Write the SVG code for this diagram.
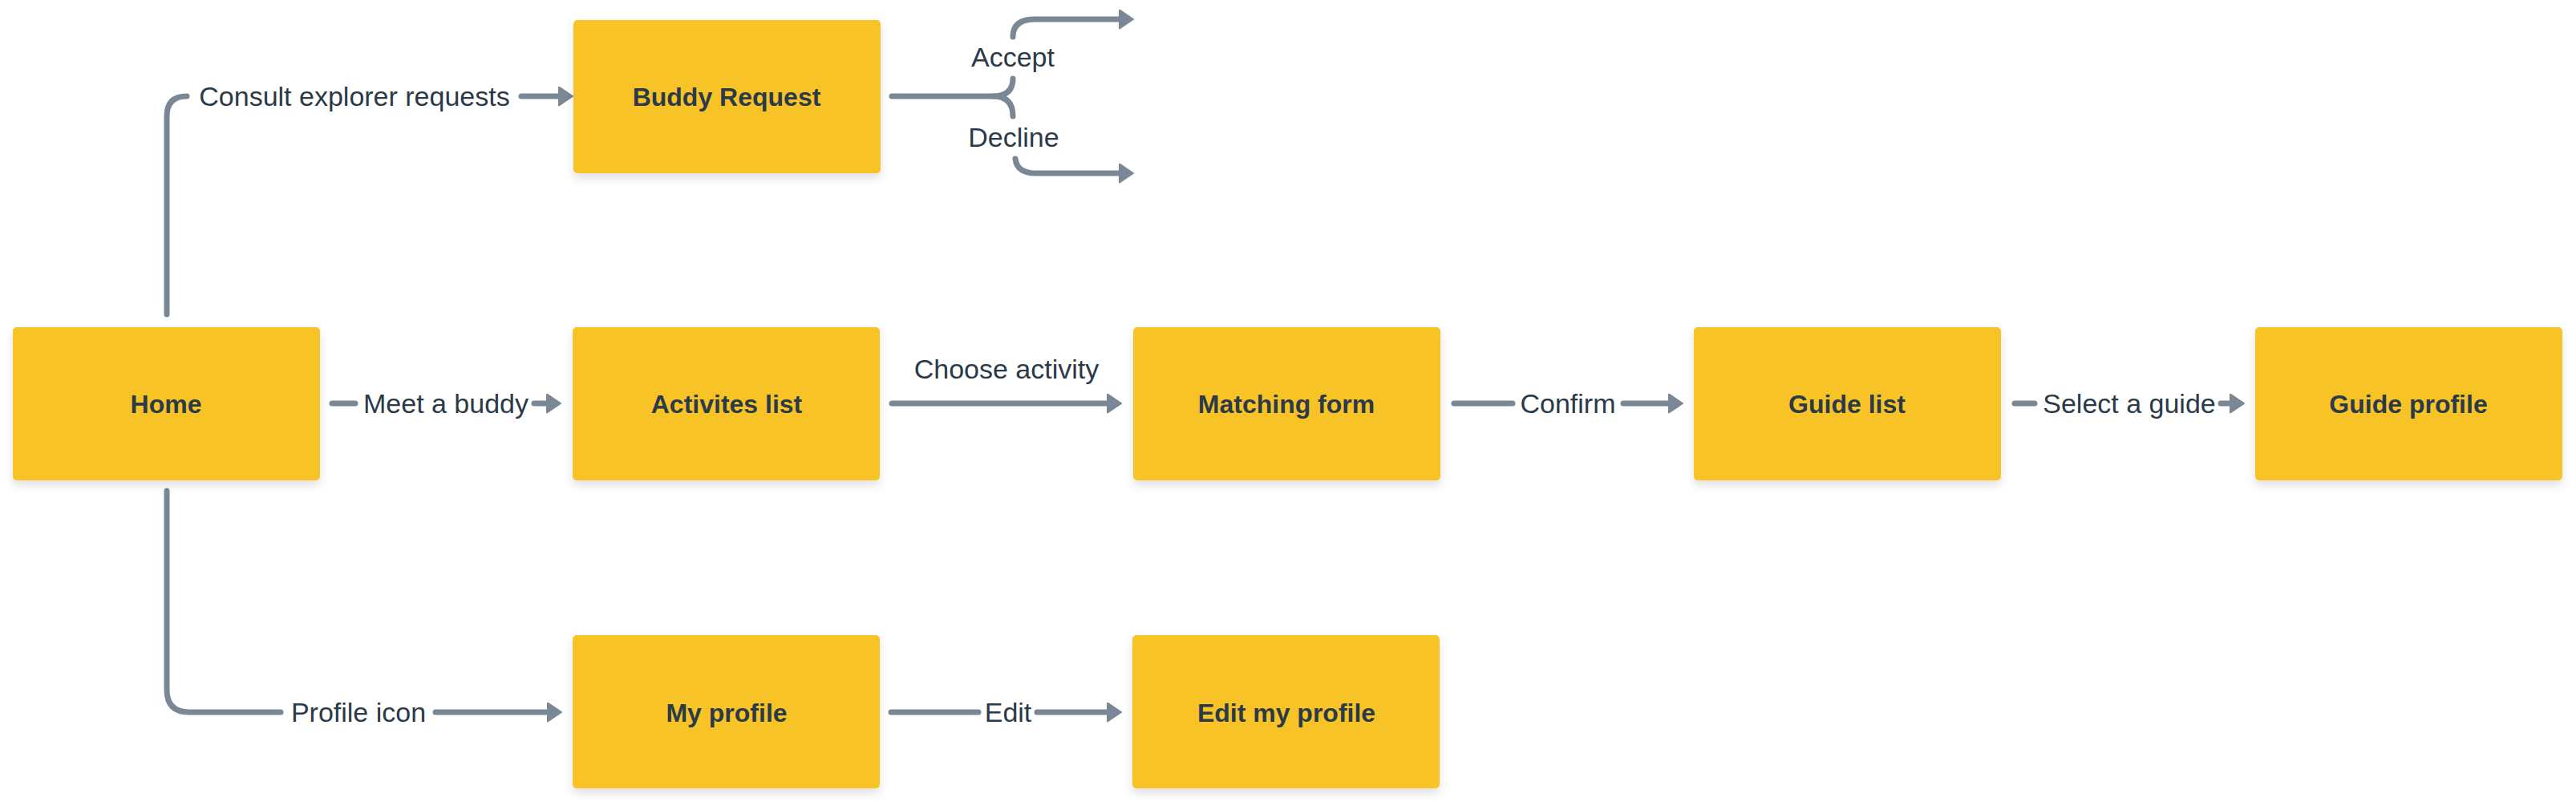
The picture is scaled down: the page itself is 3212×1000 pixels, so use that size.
<svg xmlns="http://www.w3.org/2000/svg" width="3212" height="1000" viewBox="0 0 3212 1000">
<defs>
<filter id="sh" x="-10%" y="-10%" width="120%" height="130%">
<feDropShadow dx="0" dy="6" stdDeviation="6" flood-color="#000" flood-opacity="0.12"/>
</filter>
<marker id="ah" markerUnits="userSpaceOnUse" markerWidth="20" markerHeight="26" viewBox="0 0 20 26" refX="8" refY="12.5" orient="auto">
<path d="M1,1 L18,12.5 L1,24 Z" fill="#7a8896" stroke="#7a8896" stroke-width="2" stroke-linejoin="round"/>
</marker>
<style>
.node rect{fill:#f7c325;filter:url(#sh)}
.node text{font-family:"Liberation Sans",Arial,sans-serif;font-weight:bold;font-size:32px;fill:#2b3a48;text-anchor:middle}
.c{fill:none;stroke:#7a8896;stroke-width:7;stroke-linecap:round;stroke-linejoin:round}
.a{marker-end:url(#ah)}
.lbl{font-family:"Liberation Sans",Arial,sans-serif;font-size:34px;fill:#2b3a48;text-anchor:middle}
</style>
</defs>
<rect width="3212" height="1000" fill="#fff"/>
<g id="connectors">
<path class="c" d="M208,392 V145 Q208,120 233,120"/>
<path class="c a" d="M650,120 H704"/>
<text class="lbl" x="442" y="132">Consult explorer requests</text>
<path class="c" d="M1112,120 H1238 Q1263,120 1263,98"/>
<path class="c" d="M1238,120 Q1263,120 1263,145"/>
<text class="lbl" x="1263" y="83">Accept</text>
<text class="lbl" x="1264" y="183">Decline</text>
<path class="c a" d="M1263,46 Q1263,24 1290,24 H1403"/>
<path class="c a" d="M1266,198 Q1268,216 1292,216 H1403"/>
<path class="c" d="M414,503 H443"/>
<path class="c a" d="M666,503 H689"/>
<text class="lbl" x="556" y="515">Meet a buddy</text>
<path class="c a" d="M1112,503 H1388"/>
<text class="lbl" x="1255" y="472">Choose activity</text>
<path class="c" d="M1813,503 H1886"/>
<path class="c a" d="M2024,503 H2088"/>
<text class="lbl" x="1955" y="515">Confirm</text>
<path class="c" d="M2512,503 H2537"/>
<path class="c a" d="M2769,503 H2788"/>
<text class="lbl" x="2655" y="515">Select a guide</text>
<path class="c" d="M208,612 V860 Q208,888 236,888 H350"/>
<path class="c a" d="M543,888 H690"/>
<text class="lbl" x="447" y="900">Profile icon</text>
<path class="c" d="M1111,888 H1220"/>
<path class="c a" d="M1293,888 H1388"/>
<text class="lbl" x="1257" y="900">Edit</text>
</g>
<g id="buddy-request" class="node"><rect x="715" y="25" width="383" height="191" rx="5"/><text x="906" y="132">Buddy Request</text></g>
<g id="home" class="node"><rect x="16" y="408" width="383" height="191" rx="5"/><text x="207" y="515">Home</text></g>
<g id="activites-list" class="node"><rect x="714" y="408" width="383" height="191" rx="5"/><text x="906" y="515">Activites list</text></g>
<g id="matching-form" class="node"><rect x="1413" y="408" width="383" height="191" rx="5"/><text x="1604" y="515">Matching form</text></g>
<g id="guide-list" class="node"><rect x="2112" y="408" width="383" height="191" rx="5"/><text x="2303" y="515">Guide list</text></g>
<g id="guide-profile" class="node"><rect x="2812" y="408" width="383" height="191" rx="5"/><text x="3003" y="515">Guide profile</text></g>
<g id="my-profile" class="node"><rect x="714" y="792" width="383" height="191" rx="5"/><text x="906" y="900">My profile</text></g>
<g id="edit-my-profile" class="node"><rect x="1412" y="792" width="383" height="191" rx="5"/><text x="1604" y="900">Edit my profile</text></g>
</svg>
